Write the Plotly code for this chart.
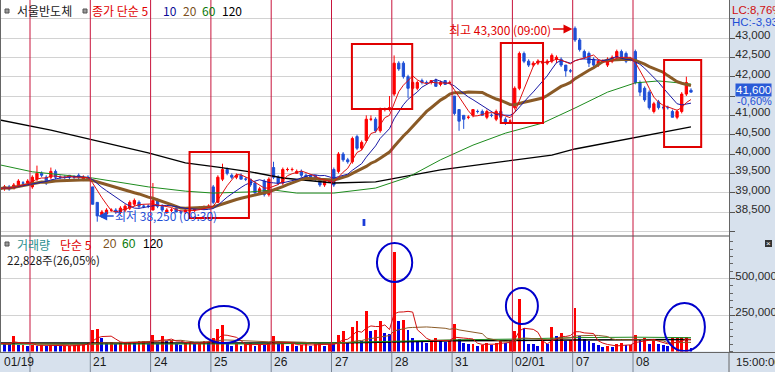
import plotly.graph_objects as go
import pandas as pd

W, H = 775, 372

# ---------------- data ----------------
day_labels = ["01/19", "", "21", "24", "25", "26", "27", "28", "31", "02/01", "07", "08"]
bars_per_day = [7, 13, 13, 13, 13, 13, 13, 13, 13, 13, 13, 13]

opens = [
    39150, 39100, 39150, 39100, 39150, 39250, 39250,
    39150, 39350, 39500, 39400, 39400, 39550, 39400, 39400, 39450, 39400, 39450, 39350, 39400,
    39150, 38750, 38400, 38450, 38550, 38550, 38500, 38550, 38600, 38700, 38750, 38650, 38650,
    38550, 38800, 38650, 38500, 38550, 38600, 38500, 38500, 38550, 38550, 38600, 38600, 38650,
    39150, 38750, 39350, 39600, 39450, 39400, 39450, 39350, 39350, 39250, 39000, 39300, 38950,
    39650, 39400, 39250, 39600, 39600, 39500, 39550, 39450, 39450, 39450, 39350, 39200, 39300,
    39600, 39550, 40000, 39850, 39800, 40450, 40150, 40350, 40900, 40900, 40600, 41150, 41150,
    41550, 42350, 42350, 42000, 41700, 41700, 41900, 41850, 41850, 41900, 41800, 41900, 41850,
    41500, 41150, 41000, 40950, 41000, 41100, 41100, 40950, 41000, 40900, 41100, 40900, 40850,
    41200, 41700, 42600, 42400, 42300, 42350, 42350, 42350, 42400, 42450, 42450, 42300, 42150,
    43250, 42950, 42650, 42600, 42450, 42300, 42400, 42300, 42400, 42500, 42650, 42600, 42450,
    42650, 41850, 41700, 41600, 41100, 41350, 41200, 41200, 41100, 40950, 41100, 41550, 41650,
]
highs = [
    39200, 39200, 39200, 39250, 39350, 39300, 39350,
    39450, 39700, 39550, 39450, 39650, 39600, 39450, 39450, 39450, 39450, 39500, 39450, 39450,
    39150, 38750, 38550, 38600, 38600, 38600, 38650, 38700, 38800, 38850, 38800, 38700, 38700,
    39250, 38850, 38700, 38600, 38600, 38600, 38550, 38600, 38600, 38600, 38650, 38650, 38700,
    39200, 39450, 39750, 39650, 39500, 39500, 39500, 39400, 39350, 39300, 39150, 39350, 39400,
    39800, 39450, 39650, 39650, 39650, 39600, 39600, 39500, 39450, 39450, 39400, 39350, 39350,
    39650, 40050, 40050, 39900, 40450, 40500, 40350, 41000, 41000, 40950, 41200, 41200, 41500,
    42550, 42400, 42400, 42050, 41900, 41900, 41950, 41900, 41900, 41950, 41900, 41900, 41900,
    41500, 41150, 41000, 41000, 41150, 41150, 41150, 41150, 41050, 41150, 41200, 40950, 40900,
    41750, 42650, 42650, 42450, 42400, 42450, 42450, 42450, 42600, 42550, 42500, 42300, 42200,
    43300, 43000, 42700, 42650, 42500, 42450, 42450, 42500, 42550, 42700, 42700, 42650, 42500,
    42700, 41900, 41750, 41650, 41350, 41400, 41250, 41250, 41150, 41150, 41600, 42000, 41700,
]
lows = [
    39050, 39050, 39050, 39100, 39150, 39200, 39200,
    39100, 39300, 39400, 39200, 39350, 39350, 39350, 39350, 39350, 39350, 39350, 39300, 39350,
    38700, 38250, 38350, 38400, 38500, 38450, 38450, 38500, 38550, 38650, 38600, 38600, 38600,
    38550, 38600, 38500, 38450, 38500, 38500, 38450, 38450, 38500, 38500, 38550, 38550, 38600,
    38700, 38750, 39300, 39450, 39350, 39350, 39350, 39300, 39150, 38950, 38950, 38900, 38900,
    39350, 39200, 39200, 39550, 39550, 39500, 39400, 39350, 39350, 39300, 39150, 39150, 39250,
    39150, 39500, 39800, 39750, 39750, 40100, 40100, 40300, 40850, 40550, 40550, 41100, 41100,
    41500, 42150, 41950, 41450, 41650, 41650, 41800, 41800, 41800, 41750, 41750, 41800, 41800,
    41000, 40600, 40650, 40900, 40950, 41050, 41000, 40900, 40950, 40850, 40900, 40750, 40800,
    41150, 41650, 42350, 42250, 42250, 42300, 42300, 42300, 42350, 42350, 42250, 42000, 42100,
    42900, 42650, 42450, 42250, 42250, 42250, 42350, 42250, 42350, 42450, 42450, 42350, 42400,
    41800, 41500, 41350, 41150, 41050, 41150, 41150, 41150, 40950, 40900, 41050, 41500, 41600,
]
closes = [
    39100, 39150, 39100, 39200, 39300, 39250, 39300,
    39400, 39500, 39450, 39250, 39550, 39400, 39400, 39400, 39400, 39400, 39400, 39400, 39350,
    38700, 38400, 38500, 38550, 38550, 38500, 38600, 38650, 38750, 38800, 38650, 38650, 38650,
    38800, 38650, 38550, 38550, 38550, 38500, 38500, 38550, 38550, 38600, 38600, 38650, 38650,
    38750, 39400, 39600, 39500, 39400, 39450, 39350, 39350, 39200, 39000, 39100, 38950, 39350,
    39400, 39250, 39600, 39600, 39600, 39550, 39450, 39400, 39400, 39350, 39200, 39300, 39300,
    39200, 40000, 39850, 39800, 40400, 40150, 40300, 40900, 40900, 40600, 41150, 41150, 41200,
    42350, 42200, 42000, 41700, 41850, 41850, 41850, 41850, 41900, 41750, 41850, 41800, 41850,
    41050, 40850, 40900, 40950, 41150, 41100, 41000, 41100, 41000, 41100, 40950, 40800, 40850,
    41700, 42600, 42400, 42300, 42350, 42400, 42400, 42400, 42550, 42500, 42300, 42150, 42150,
    42950, 42700, 42500, 42350, 42300, 42400, 42400, 42450, 42500, 42650, 42500, 42400, 42450,
    41850, 41600, 41400, 41200, 41300, 41200, 41200, 41200, 40950, 41100, 41550, 41850, 41600,
]
volumes = [
    55000, 50000, 48000, 105000, 42000, 45000, 40000,
    45000, 40000, 42000, 40000, 45000, 40000, 35000, 38000, 40000, 45000, 48000, 52000, 60000,
    150000, 155000, 95000, 60000, 65000, 50000, 60000, 65000, 68000, 55000, 70000, 75000, 50000,
    115000, 50000, 105000, 75000, 80000, 50000, 45000, 60000, 65000, 50000, 60000, 70000, 65000,
    95000, 155000, 180000, 60000, 40000, 50000, 40000, 50000, 55000, 40000, 50000, 45000, 55000,
    105000, 50000, 55000, 40000, 50000, 40000, 45000, 50000, 40000, 50000, 55000, 40000, 50000,
    50000, 115000, 140000, 65000, 170000, 210000, 75000, 280000, 140000, 150000, 210000, 130000, 120000,
    680000, 210000, 215000, 150000, 95000, 75000, 72000, 60000, 75000, 90000, 80000, 65000, 70000,
    185000, 85000, 55000, 50000, 53000, 40000, 45000, 60000, 45000, 60000, 70000, 60000, 75000,
    140000, 360000, 160000, 50000, 48000, 40000, 70000, 50000, 165000, 105000, 125000, 70000, 82000,
    295000, 105000, 85000, 70000, 60000, 45000, 28000, 38000, 32000, 48000, 60000, 42000, 46000,
    110000, 80000, 92000, 50000, 82000, 48000, 44000, 38000, 90000, 94000, 98000, 100000, 23000,
]

# long moving averages (need history before the window)
price_ma60_idx = [0, 7, 20, 32, 40, 46, 54, 59, 64, 72, 81, 88, 95, 102, 109, 117, 124, 131, 137, 142, 149]
price_ma60 = [39720, 39540, 39380, 39150, 39040, 38990, 39020, 39070, 38990, 38990, 39120, 39400,
              39850, 40230, 40540, 40800, 41190, 41600, 41840, 41890, 41810]
price_ma120_idx = [0, 11, 32, 40, 47, 54, 61, 72, 81, 95, 119, 124, 149]
price_ma120 = [40880, 40620, 40030, 39770, 39660, 39540, 39380, 39250, 39280, 39590, 39970, 40130, 40700]
vol_ma60_idx = [0, 33, 59, 72, 85, 98, 111, 124, 137, 149]
vol_ma60 = [50000, 52000, 52000, 60000, 72000, 80000, 85000, 95000, 98000, 95000]
vol_ma120_idx = [0, 46, 72, 85, 98, 124, 149]
vol_ma120 = [58000, 57000, 58000, 65000, 73000, 78000, 82000]

price_ticks = [38000, 38500, 39000, 39500, 40000, 40500, 41000, 41500, 42000, 42500, 43000, 43500]
price_tick_hidden = [38000, 41500, 43500]
volume_ticks = [250000, 500000]

# ---------------- derived ----------------
N = len(closes)
x = list(range(N))
cs = pd.Series(closes, dtype=float)
ma5 = cs.rolling(5, min_periods=1).mean()
ma10 = cs.rolling(10, min_periods=1).mean()
ma20 = cs.rolling(20, min_periods=1).mean()
vs = pd.Series(volumes, dtype=float)
vma5 = vs.rolling(5, min_periods=1).mean()
vma20 = vs.rolling(20, min_periods=1).mean()
vol_colors = ["#ff0000" if i == 0 or volumes[i] > volumes[i - 1] else "#0000e6" for i in range(N)]

starts = []
s = 0
for n in bars_per_day:
    starts.append(s)
    s += n
bounds = [st - 0.5 for st in starts[1:]]

PX_PER_BAR = 4.6385
X0 = 6.5 - 30 / PX_PER_BAR
PLOT_W = 729
X1 = X0 + PLOT_W / PX_PER_BAR

def px(v):
    return v / W

def py(v):
    return 1 - v / H

FONT = "Noto Sans CJK KR, Liberation Sans, sans-serif"
NUMF = "Liberation Sans, Arial, sans-serif"
UP = "#ff0000"
DOWN = "#1f4fd6"
AXIS_BG = "#d7e1ed"

fig = go.Figure()

fig.add_trace(go.Candlestick(
    x=x, open=opens, high=highs, low=lows, close=closes,
    increasing=dict(line=dict(color=UP, width=1), fillcolor=UP),
    decreasing=dict(line=dict(color=DOWN, width=1), fillcolor=DOWN),
    whiskerwidth=0, xaxis="x", yaxis="y", showlegend=False, hoverinfo="skip"))

fig.add_trace(go.Scatter(x=price_ma120_idx, y=price_ma120, mode="lines",
                         line=dict(color="#000000", width=1.3), xaxis="x", yaxis="y", showlegend=False))
fig.add_trace(go.Scatter(x=price_ma60_idx, y=price_ma60, mode="lines",
                         line=dict(color="#1e8c1e", width=1), xaxis="x", yaxis="y", showlegend=False))
fig.add_trace(go.Scatter(x=x, y=ma20, mode="lines",
                         line=dict(color="#8a5a26", width=3), xaxis="x", yaxis="y", showlegend=False))
fig.add_trace(go.Scatter(x=x, y=ma10, mode="lines",
                         line=dict(color="#1a1aa6", width=1), xaxis="x", yaxis="y", showlegend=False))
fig.add_trace(go.Scatter(x=x, y=ma5, mode="lines",
                         line=dict(color="#e01010", width=1), xaxis="x", yaxis="y", showlegend=False))

fig.add_trace(go.Bar(x=x, y=volumes, marker=dict(color=vol_colors, line=dict(width=0)), width=0.62,
                     xaxis="x2", yaxis="y2", showlegend=False))
fig.add_trace(go.Scatter(x=vol_ma120_idx, y=vol_ma120, mode="lines",
                         line=dict(color="#000000", width=1.5), xaxis="x2", yaxis="y2", showlegend=False))
fig.add_trace(go.Scatter(x=vol_ma60_idx, y=vol_ma60, mode="lines",
                         line=dict(color="#1e8c1e", width=1), xaxis="x2", yaxis="y2", showlegend=False))
fig.add_trace(go.Scatter(x=x, y=vma20, mode="lines",
                         line=dict(color="#8a5a26", width=1), xaxis="x2", yaxis="y2", showlegend=False))
fig.add_trace(go.Scatter(x=x, y=vma5, mode="lines",
                         line=dict(color="#d01010", width=1), xaxis="x2", yaxis="y2", showlegend=False))

price_ticktext = [("" if v in price_tick_hidden else f"{v:,}") for v in price_ticks]

common_x = dict(range=[X0, X1], domain=[0, px(PLOT_W)], showticklabels=False, showgrid=False,
                zeroline=False, fixedrange=True, ticks="")
axis_font = dict(family=NUMF, size=11.5, color="#2a2a2a")
fig.update_layout(
    width=W, height=H, margin=dict(l=0, r=0, t=0, b=0),
    paper_bgcolor=AXIS_BG, plot_bgcolor="#ffffff",
    bargap=0, showlegend=False,
    xaxis=dict(**common_x, anchor="y", rangeslider=dict(visible=False)),
    xaxis2=dict(**common_x, anchor="y2"),
    yaxis=dict(domain=[py(236), 1], range=[37880, 43983], side="right", anchor="x",
               tickvals=price_ticks, ticktext=price_ticktext, ticks="outside", ticklen=5,
               tickcolor="#555555", ticklabelshift=-3, ticklabelstandoff=-2,
               tickfont=axis_font,
               showgrid=True, gridcolor="#d2d2d2", gridwidth=1, zeroline=False,
               showline=True, linecolor="#666666", linewidth=1, automargin=False, fixedrange=True),
    yaxis2=dict(domain=[py(351.5), py(236)], range=[0, 791000], side="right", anchor="x2",
                tickvals=volume_ticks, ticktext=[f"{v:,}" for v in volume_ticks], ticks="outside",
                ticklen=5, tickcolor="#555555", ticklabelshift=-3, ticklabelstandoff=-2,
                tickfont=axis_font,
                minor=dict(dtick=50000, tick0=0, ticks="outside", ticklen=3, tickcolor="#666666", showgrid=False),
                showgrid=True, gridcolor="#d2d2d2", gridwidth=1, zeroline=False,
                showline=True, linecolor="#666666", linewidth=1, automargin=False, fixedrange=True),
)

shapes = []
# day separator lines (price + volume panels) and strip separators
for b in bounds:
    shapes.append(dict(type="line", xref="x", yref="paper", x0=b, x1=b, y0=py(352), y1=1,
                       line=dict(color="#c8143c", width=1), layer="above"))
    shapes.append(dict(type="line", xref="x", yref="paper", x0=b, x1=b, y0=0, y1=py(352),
                       line=dict(color="#7a8594", width=1), layer="above"))
# panel separators & borders
shapes.append(dict(type="line", xref="paper", yref="paper", x0=0, x1=px(PLOT_W), y0=py(236), y1=py(236),
                   line=dict(color="#555555", width=1.2)))
shapes.append(dict(type="line", xref="paper", yref="paper", x0=0, x1=1, y0=py(352.5), y1=py(352.5),
                   line=dict(color="#666666", width=1.2)))
shapes.append(dict(type="line", xref="paper", yref="paper", x0=px(PLOT_W), x1=px(PLOT_W), y0=0, y1=py(352),
                   line=dict(color="#666666", width=1)))
shapes.append(dict(type="line", xref="paper", yref="paper", x0=px(0.5), x1=px(0.5), y0=py(352), y1=1,
                   line=dict(color="#666666", width=1)))

# red highlight boxes on price panel
for (a, b_, lo, hi) in [(40.9, 53.7, 38345, 40052), (75.9, 88.9, 41164, 42845),
                        (108.0, 117.1, 40802, 42871), (143.2, 151.2, 40181, 42431)]:
    shapes.append(dict(type="rect", xref="x", yref="y", x0=a, x1=b_, y0=lo, y1=hi,
                       line=dict(color="#e00000", width=2), fillcolor="rgba(0,0,0,0)", layer="above"))
# blue circles on volume panel
for (a, b_, lo, hi) in [(42.9, 53.7, 58000, 311000), (81.3, 88.9, 476000, 743000),
                        (109.1, 116.0, 188000, 435000), (143.2, 152.0, 3000, 332000)]:
    shapes.append(dict(type="circle", xref="x2", yref="y2", x0=a, x1=b_, y0=lo, y1=hi,
                       line=dict(color="#0000cc", width=2), fillcolor="rgba(0,0,0,0)", layer="above"))
# small blue bookmark marker
shapes.append(dict(type="rect", xref="x", yref="y", x0=78.2, x1=78.8, y0=38140, y1=38320,
                   line=dict(color="#1a3cd8", width=0), fillcolor="#1a3cd8"))
# legend squares
for sx, sy in [(5, 11), (83, 11), (5, 244)]:
    shapes.append(dict(type="rect", xref="paper", yref="paper", x0=px(sx), x1=px(sx + 4),
                       y0=py(sy + 2), y1=py(sy - 2), line=dict(color="#555555", width=1), fillcolor="#9a9a9a"))
# close icon
shapes.append(dict(type="rect", xref="paper", yref="paper", x0=px(765), x1=px(772), y0=py(247), y1=py(240),
                   line=dict(width=0), fillcolor="#333333"))
fig.update_layout(shapes=shapes)

ann = []

def txt(t, xpx, ypx, color, size=12, family=FONT, anchor="left"):
    ann.append(dict(text=t, xref="paper", yref="paper", x=px(xpx), y=py(ypx), xanchor=anchor,
                    yanchor="middle", showarrow=False, font=dict(family=family, size=size, color=color),
                    borderpad=0))

txt("서울반도체", 16, 11, "#1a1a1a")
txt("종가 단순 5", 91, 11, "#e00000")
txt("10", 162, 11, "#0a0a96")
txt("20", 182, 11, "#7a5020")
txt("60", 201, 11, "#0a7a0a")
txt("120", 221, 11, "#000000")

txt("거래량", 16, 244, "#2a9090")
txt("단순 5", 59, 244, "#e00000")
txt("20", 102, 244, "#7a5020", family=NUMF)
txt("60", 121, 244, "#0a7a0a", family=NUMF)
txt("120", 142, 244, "#000000", family=NUMF)
txt("22,828주(26,05%)", 6, 260, "#1a1a1a", size=11.5)

txt("LC:8,76%", 731, 10, "#d01010", size=11.5, family=NUMF)
txt("HC:-3,93%", 731, 22, "#1f4fd6", size=11.5, family=NUMF)
txt("-0,60%", 736, 100.5, "#1f4fd6", size=11, family=NUMF)
txt("15:00:00", 735, 362, "#1a1a1a", size=11.5, family=NUMF)
txt("×", 768.5, 243.5, "#ffffff", size=8, family=NUMF, anchor="center")

ann.append(dict(text="41,600", xref="paper", yref="y", x=px(735), y=closes[-1], xanchor="left",
                yanchor="middle", yshift=2, showarrow=False, bgcolor="#2a5bd7", borderpad=0,
                font=dict(family=NUMF, size=11.5, color="#ffffff")))

# day labels in bottom strip
ann.append(dict(text=day_labels[0], xref="paper", yref="paper", x=px(2), y=py(362), xanchor="left",
                yanchor="middle", showarrow=False, font=dict(family=NUMF, size=12, color="#1a1a1a")))
for lab, b in zip(day_labels[1:], bounds):
    if lab:
        ann.append(dict(text=lab, xref="x", yref="paper", x=b, y=py(362), xanchor="left", xshift=1,
                        yanchor="middle", showarrow=False, font=dict(family=NUMF, size=12, color="#1a1a1a")))

# high / low callouts
hi_i = highs.index(max(highs))
lo_i = lows.index(min(lows))
ann.append(dict(text=f"최고 {max(highs):,} (09:00)", xref="x", yref="y", x=hi_i - 0.55, y=43230,
                ax=-72, ay=0, showarrow=True, arrowhead=2, arrowsize=1.2, arrowwidth=1.5,
                arrowcolor="#e00000", font=dict(family=FONT, size=12, color="#e00000"), standoff=0))
ann.append(dict(text=f"최저 {min(lows):,} (09:30)", xref="x", yref="y", x=lo_i + 0.2, y=38400,
                ax=68, ay=0, showarrow=True, arrowhead=2, arrowsize=1.2, arrowwidth=1.5,
                arrowcolor="#1f4fd6", font=dict(family=FONT, size=12, color="#1f4fd6"), standoff=0))

fig.update_layout(annotations=ann)
fig.write_html("out.html", config={"displayModeBar": False},
               post_script="document.body.style.margin='0';document.body.style.overflow='hidden';")
